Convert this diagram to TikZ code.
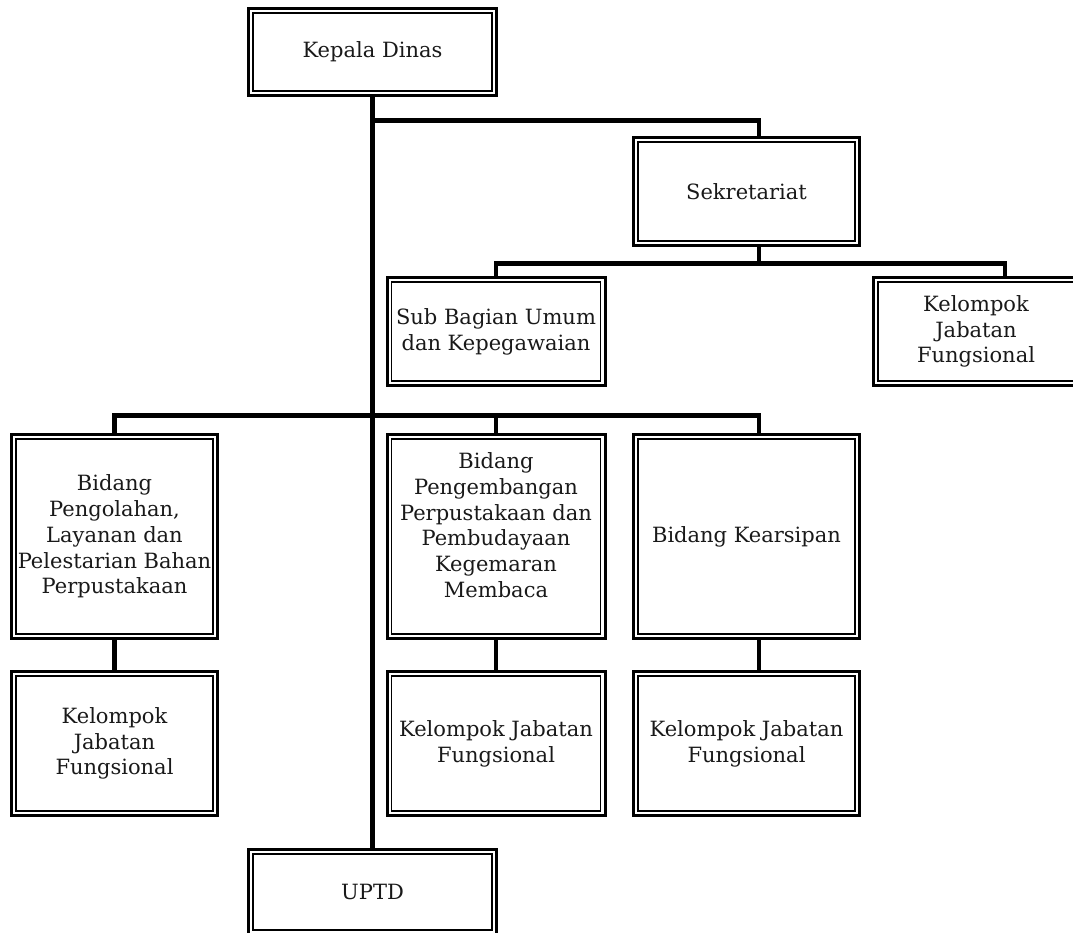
\documentclass[tikz,border=0pt]{standalone}
\usepackage{fontspec}
\newfontfamily\orgserif{DejaVu Serif}
\begin{document}
\begin{tikzpicture}[x=1pt,y=-1pt,
  orgbox/.style={draw, line width=3pt, rectangle, inner sep=0pt, align=center,
    text=black!90, font={\orgserif\fontsize{21}{25.75}\selectfont},
    path picture={\draw[line width=1.5pt]
      ([xshift=4.5pt,yshift=-4.5pt]path picture bounding box.north west) rectangle
      ([xshift=-4.5pt,yshift=4.5pt]path picture bounding box.south east);}},
  conn/.style={line width=4.2pt}]
\clip (0,0) rectangle (1073,932);

% top level
\node[orgbox, minimum width=248pt, minimum height=87pt] (kd) at (372.5,52) {Kepala Dinas};
\node[orgbox, minimum width=226pt, minimum height=108pt] (sek) at (746.5,191.5) {Sekretariat};

% secretariat branch
\node[orgbox, minimum width=218pt, minimum height=108pt] (sub) at (496,331.5) {Sub Bagian Umum\\dan Kepegawaian};
\node[orgbox, minimum width=205pt, minimum height=108pt] (kjf0) at (976,331.5) {Kelompok\\Jabatan\\Fungsional};

% divisions
\node[orgbox, minimum width=206pt, minimum height=204pt] (bp1) at (114.5,536.5) {Bidang\\Pengolahan,\\Layanan dan\\Pelestarian Bahan\\Perpustakaan};
\node[orgbox, minimum width=218pt, minimum height=204pt] (bp2) at (496,536.5) {Bidang\\Pengembangan\\Perpustakaan dan\\Pembudayaan\\Kegemaran\\Membaca\\[-3pt]\mbox{}};
\node[orgbox, minimum width=226pt, minimum height=204pt] (bp3) at (746.5,536.5) {Bidang Kearsipan};

% functional groups
\node[orgbox, minimum width=206pt, minimum height=144pt] (kjf1) at (114.5,743.5) {Kelompok\\Jabatan\\Fungsional};
\node[orgbox, minimum width=218pt, minimum height=144pt] (kjf2) at (496,743.5) {Kelompok Jabatan\\Fungsional};
\node[orgbox, minimum width=226pt, minimum height=144pt] (kjf3) at (746.5,743.5) {Kelompok Jabatan\\Fungsional};

% technical unit
\node[orgbox, minimum width=248pt, minimum height=85pt] (uptd) at (372.5,892) {UPTD};

% connectors
\draw[conn] (kd.south) -- (uptd.north);
\draw[conn] ([yshift=-23.5pt]kd.south) -| ([xshift=12.5pt]sek.north);

\coordinate (sbus) at ([xshift=12.5pt,yshift=-16.5pt]sek.south);
\draw[conn] ([xshift=12.5pt]sek.south) -- (sbus);
\draw[conn] (sub.north) |- (sbus) -| ([xshift=29pt]kjf0.north);

\coordinate (t3) at ([xshift=12.5pt]bp3.north);
\draw[conn] (bp1.north) -- ++(0pt,17.5pt) -| (t3);
\draw[conn] (bp2.north) -- ++(0pt,17.5pt);

\draw[conn] (bp1.south) -- (kjf1.north);
\draw[conn] (bp2.south) -- (kjf2.north);
\draw[conn] ([xshift=12.5pt]bp3.south) -- ([xshift=12.5pt]kjf3.north);
\end{tikzpicture}
\end{document}
